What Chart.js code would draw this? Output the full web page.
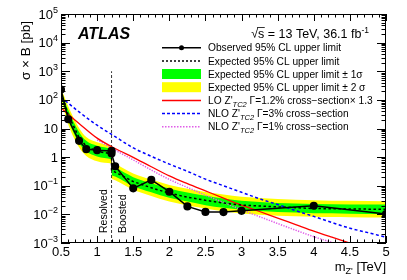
<!DOCTYPE html>
<html>
<head>
<meta charset="utf-8">
<script src="https://cdn.jsdelivr.net/npm/chart.js@4.4.0/dist/chart.umd.min.js"></script>
<style>
html, body { margin: 0; padding: 0; background: #fff; }
#wrap { width: 407px; height: 280px; }
</style>
</head>
<body>
<div id="wrap"><canvas id="grafico" width="407" height="280"></canvas></div>
<script>
// --- DATOS ---
// observado (la masa 1.2 aparece dos veces: resuelto y boosted)
const masaObs = [0.5, 0.6, 0.75, 0.85, 1.0, 1.2, 1.2, 1.25, 1.5, 1.75, 2.0, 2.25, 2.5, 2.75, 3.0, 4.0, 5.0];
const limiteObs = [230, 21, 3.7, 1.9, 1.75, 1.65, 1.35, 0.48, 0.081, 0.16, 0.062, 0.019, 0.0122, 0.012, 0.0133, 0.0199, 0.0102];

// esperado, region resuelta
const masaRes = [0.5, 0.6, 0.75, 0.85, 1.0, 1.2];
const espRes = [170, 30, 4.8, 2.4, 1.6, 1.3];
const esp1sArribaRes = [215, 44, 7.6, 3.7, 2.5, 2.0];
const esp1sAbajoRes = [135, 20, 3.1, 1.6, 1.05, 0.85];
const esp2sArribaRes = [260, 60, 10.5, 5.0, 3.3, 2.5];
const esp2sAbajoRes = [105, 14, 2.2, 1.1, 0.72, 0.6];

// esperado, region boosted
const masaBoo = [1.2, 1.25, 1.5, 1.75, 2.0, 2.25, 2.5, 2.75, 3.0, 4.0, 5.0];
const espBoo = [0.34, 0.3, 0.14, 0.085, 0.055, 0.04, 0.031, 0.025, 0.021, 0.016, 0.015];
const esp1sArribaBoo = [0.49, 0.43, 0.2, 0.123, 0.08, 0.058, 0.045, 0.036, 0.030, 0.023, 0.022];
const esp1sAbajoBoo = [0.235, 0.21, 0.097, 0.059, 0.038, 0.028, 0.021, 0.017, 0.0145, 0.011, 0.0103];
const esp2sArribaBoo = [0.66, 0.58, 0.27, 0.165, 0.107, 0.078, 0.06, 0.049, 0.041, 0.031, 0.029];
const esp2sAbajoBoo = [0.175, 0.155, 0.072, 0.044, 0.028, 0.0205, 0.016, 0.0128, 0.0108, 0.0082, 0.0077];

// secciones eficaces teoricas
const masaLO = [0.5, 0.75, 1.0, 1.25, 1.5, 1.75, 2.0, 2.25, 2.5, 2.75, 3.0, 3.25, 3.5, 3.75, 4.0, 4.25, 4.5];
const xsecLO = [52, 15, 4.6, 2.0, 0.98, 0.46, 0.22, 0.118, 0.066, 0.037, 0.021, 0.0126, 0.0074, 0.0044, 0.0026, 0.0016, 0.001];
const masaNLO3 = [0.5, 0.75, 1.0, 1.25, 1.5, 1.75, 2.0, 2.25, 2.5, 2.75, 3.0, 3.25, 3.5, 3.75, 4.0, 4.25, 4.5, 4.75, 5.0];
const xsecNLO3 = [125, 38, 13, 5.2, 2.1, 1.07, 0.57, 0.32, 0.17, 0.1, 0.059, 0.035, 0.022, 0.0135, 0.0085, 0.0052, 0.0033, 0.0023, 0.0016];
const masaNLO1 = [1.0, 1.25, 1.5, 1.75, 2.0, 2.25, 2.5, 2.75, 3.0, 3.25, 3.5, 3.75, 4.0, 4.25, 4.5];
const xsecNLO1 = [4.0, 1.75, 0.8, 0.355, 0.166, 0.087, 0.047, 0.026, 0.0145, 0.0083, 0.0048, 0.0028, 0.00166, 0.00105, 0.00066];

// separacion resuelto / boosted
const masaCorte = 1.2;

// etiquetas
const etiquetasY = [[1e-3, '10', '−3'], [1e-2, '10', '−2'], [1e-1, '10', '−1'], [1, '1', ''], [10, '10', ''],
                    [1e2, '10', '2'], [1e3, '10', '3'], [1e4, '10', '4'], [1e5, '10', '5']];

const FUENTE = '"Liberation Sans", Arial, Helvetica, sans-serif';

function puntos(xs, ys) {
    return xs.map((x, i) => ({ x: x, y: ys[i] }));
}

// --- TEXTO CON SUB/SUPER INDICES ---
function trozo(ctx, txt, x, y, size, dy, estilo) {
    ctx.font = (estilo || '') + ' ' + size + 'px ' + FUENTE;
    ctx.fillText(txt, x, y + dy);
    return ctx.measureText(txt).width;
}

function dibujarLinea(ctx, partes, x, y) {
    // partes: [texto, tamaño, desplazamiento, estilo]
    let cx = x;
    partes.forEach(p => { cx += trozo(ctx, p[0], cx, y, p[1], p[2] || 0, p[3]); });
    return cx;
}

function anchoLinea(ctx, partes) {
    let w = 0;
    partes.forEach(p => {
        ctx.font = (p[3] || '') + ' ' + p[1] + 'px ' + FUENTE;
        w += ctx.measureText(p[0]).width;
    });
    return w;
}

const decoracion = {
    id: 'decoracion',
    afterDatasetsDraw(chart) {
        const ctx = chart.ctx;
        const a = chart.chartArea;
        const xs = chart.scales.x, ys = chart.scales.y;
        ctx.save();
        ctx.strokeStyle = '#000';
        ctx.lineWidth = 1;
        ctx.strokeRect(a.left + 0.5, a.top + 0.5, a.right - a.left - 1, a.bottom - a.top - 1);

        ctx.beginPath();
        for (let i = 5; i <= 50; i++) {
            const px = Math.round(xs.getPixelForValue(i / 10)) + 0.5;
            const l = (i % 5 === 0) ? 7 : 3.5;
            ctx.moveTo(px, a.bottom); ctx.lineTo(px, a.bottom - l);
            ctx.moveTo(px, a.top); ctx.lineTo(px, a.top + l);
        }
        for (let e = -3; e <= 4; e++) {
            for (let k = 1; k <= 9; k++) {
                const py = Math.round(ys.getPixelForValue(k * Math.pow(10, e))) + 0.5;
                const l = (k === 1) ? 9 : 4.5;
                ctx.moveTo(a.left, py); ctx.lineTo(a.left + l, py);
                ctx.moveTo(a.right, py); ctx.lineTo(a.right - l, py);
            }
        }
        ctx.stroke();
        ctx.restore();
    },
    afterDraw(chart) {
        const ctx = chart.ctx;
        const a = chart.chartArea;
        const ys = chart.scales.y;
        const xs = chart.scales.x;
        ctx.save();
        ctx.fillStyle = '#000';
        ctx.textBaseline = 'alphabetic';
        ctx.textAlign = 'left';

        // etiquetas eje Y
        etiquetasY.forEach(([v, base, exp]) => {
            const py = ys.getPixelForValue(v);
            const partes = [[base, 13, 0]];
            if (exp) partes.push([exp, 9, -6]);
            const w = anchoLinea(ctx, partes);
            dibujarLinea(ctx, partes, 58 - w, py + 4.5);
        });

        // titulo eje Y
        ctx.save();
        ctx.translate(30, 21);
        ctx.rotate(-Math.PI / 2);
        ctx.textAlign = 'right';
        ctx.font = '13.5px ' + FUENTE;
        ctx.fillText('σ × B [pb]', 0, 0);
        ctx.restore();

        // titulo eje X
        const tituloX = [['m', 13, 0], ['Z\'', 9, 3], [' [TeV]', 13, 0]];
        dibujarLinea(ctx, tituloX, a.right - anchoLinea(ctx, tituloX), 271);

        // ATLAS
        ctx.font = 'italic bold 16px ' + FUENTE;
        ctx.fillText('ATLAS', 78, 39);

        // energia y luminosidad
        const lumi = [['√', 12.5, 0], ['s = 13 TeV, 36.1 fb', 12.5, 0], ['-1', 8.5, -5]];
        const xl = 369 - anchoLinea(ctx, lumi);
        dibujarLinea(ctx, lumi, xl, 38);
        ctx.font = '12.5px ' + FUENTE;
        const wr = ctx.measureText('√').width;
        ctx.beginPath();
        ctx.lineWidth = 0.8;
        ctx.moveTo(xl + wr - 1, 27.5); ctx.lineTo(xl + wr + ctx.measureText('s').width + 0.5, 27.5);
        ctx.stroke();

        // leyenda
        const x0 = 162, x1 = 201, xt = 208;
        const filas = [47.7, 60.9, 74.0, 87.2, 100.4, 113.5, 126.7];
        const tam = 10.2;
        ctx.lineWidth = 1.5;
        // observado
        ctx.strokeStyle = '#000';
        ctx.setLineDash([]);
        ctx.beginPath(); ctx.moveTo(x0, filas[0]); ctx.lineTo(x1, filas[0]); ctx.stroke();
        ctx.beginPath(); ctx.arc((x0 + x1) / 2, filas[0], 2.5, 0, 2 * Math.PI); ctx.fill();
        // esperado
        ctx.setLineDash([2, 2]);
        ctx.beginPath(); ctx.moveTo(x0, filas[1]); ctx.lineTo(x1, filas[1]); ctx.stroke();
        ctx.setLineDash([]);
        // bandas
        ctx.fillStyle = '#00ff00'; ctx.fillRect(x0, filas[2] - 5, x1 - x0, 10);
        ctx.fillStyle = '#ffff00'; ctx.fillRect(x0, filas[3] - 5, x1 - x0, 10);
        ctx.fillStyle = '#000';
        // teoria
        ctx.strokeStyle = '#ff0000';
        ctx.beginPath(); ctx.moveTo(x0, filas[4]); ctx.lineTo(x1, filas[4]); ctx.stroke();
        ctx.strokeStyle = '#0000ff';
        ctx.setLineDash([3, 2]);
        ctx.beginPath(); ctx.moveTo(x0, filas[5]); ctx.lineTo(x1, filas[5]); ctx.stroke();
        ctx.strokeStyle = '#e05ce8';
        ctx.setLineDash([1.5, 1.5]);
        ctx.beginPath(); ctx.moveTo(x0, filas[6]); ctx.lineTo(x1, filas[6]); ctx.stroke();
        ctx.setLineDash([]);

        const d = 3.6;
        const textos = [
            [['Observed 95% CL upper limit', tam, 0]],
            [['Expected 95% CL upper limit', tam, 0]],
            [['Expected 95% CL upper limit ± 1', tam, 0], ['σ', tam, 0]],
            [['Expected 95% CL upper limit ± 2 ', tam, 0], ['σ', tam, 0]],
            [['LO Z\'', tam, 0], ['TC2', 7.5, 3, 'italic'], [' Γ=1.2% cross−section× 1.3', tam, 0]],
            [['NLO Z\'', tam, 0], ['TC2', 7.5, 3, 'italic'], [' Γ=3% cross−section', tam, 0]],
            [['NLO Z\'', tam, 0], ['TC2', 7.5, 3, 'italic'], [' Γ=1% cross−section', tam, 0]]
        ];
        textos.forEach((t, i) => dibujarLinea(ctx, t, xt, filas[i] + d));

        // Resolved / Boosted
        const pc = xs.getPixelForValue(masaCorte);
        ctx.font = '10.5px ' + FUENTE;
        ctx.textAlign = 'left';
        ctx.save();
        ctx.translate(pc - 4.5, 233);
        ctx.rotate(-Math.PI / 2);
        ctx.fillText('Resolved', 0, 0);
        ctx.restore();
        ctx.save();
        ctx.translate(pc + 14.5, 233);
        ctx.rotate(-Math.PI / 2);
        ctx.fillText('Boosted', 0, 0);
        ctx.restore();

        ctx.restore();
    }
};

const bandaBase = { borderWidth: 0, pointRadius: 0, cubicInterpolationMode: 'monotone' };

new Chart(document.getElementById('grafico').getContext('2d'), {
    type: 'line',
    data: {
        datasets: [
            { label: 'Observed', data: puntos(masaObs, limiteObs), borderColor: '#000', backgroundColor: '#000',
              borderWidth: 1.5, pointRadius: 3.3, pointBackgroundColor: '#000', tension: 0 },
            { label: 'Expected', data: puntos(masaRes.concat(masaBoo), espRes.concat(espBoo)), borderColor: '#000',
              borderWidth: 1.5, borderDash: [2.5, 2.5], pointRadius: 0, tension: 0 },
            { label: 'LO', data: puntos(masaLO, xsecLO), borderColor: '#ff0000', borderWidth: 1.3,
              pointRadius: 0, cubicInterpolationMode: 'monotone' },
            { label: 'NLO 3%', data: puntos(masaNLO3, xsecNLO3), borderColor: '#0000ff', borderWidth: 1.5,
              borderDash: [3, 2.5], pointRadius: 0, cubicInterpolationMode: 'monotone' },
            { label: 'NLO 1%', data: puntos(masaNLO1, xsecNLO1), borderColor: '#e05ce8', borderWidth: 1.5,
              borderDash: [1.3, 1.3], pointRadius: 0, cubicInterpolationMode: 'monotone' },
            { label: 'corte', data: [{ x: masaCorte, y: 1e-3 }, { x: masaCorte, y: 1e3 }], borderColor: '#000',
              borderWidth: 0.8, borderDash: [3, 2], pointRadius: 0 },
            Object.assign({ data: puntos(masaRes, esp1sArribaRes), backgroundColor: '#00ff00', fill: '+1' }, bandaBase),
            Object.assign({ data: puntos(masaRes, esp1sAbajoRes) }, bandaBase),
            Object.assign({ data: puntos(masaBoo, esp1sArribaBoo), backgroundColor: '#00ff00', fill: '+1' }, bandaBase),
            Object.assign({ data: puntos(masaBoo, esp1sAbajoBoo) }, bandaBase),
            Object.assign({ data: puntos(masaRes, esp2sArribaRes), backgroundColor: '#ffff00', fill: '+1' }, bandaBase),
            Object.assign({ data: puntos(masaRes, esp2sAbajoRes) }, bandaBase),
            Object.assign({ data: puntos(masaBoo, esp2sArribaBoo), backgroundColor: '#ffff00', fill: '+1' }, bandaBase),
            Object.assign({ data: puntos(masaBoo, esp2sAbajoBoo) }, bandaBase)
        ]
    },
    options: {
        responsive: false,
        animation: false,
        devicePixelRatio: 1,
        layout: { padding: { top: 14, right: 21, left: 0, bottom: 0 } },
        plugins: { legend: { display: false }, tooltip: { enabled: false } },
        scales: {
            x: {
                type: 'linear', min: 0.5, max: 5,
                grid: { display: false, drawTicks: false }, border: { display: false },
                ticks: { stepSize: 0.5, padding: 2, maxRotation: 0, autoSkip: false, color: '#000',
                         font: { family: FUENTE, size: 13 },
                         callback: v => String(Math.round(v * 10) / 10) },
                afterFit(s) { s.height = 37; }
            },
            y: {
                type: 'logarithmic', min: 1e-3, max: 1e5,
                grid: { display: false, drawTicks: false }, border: { display: false },
                ticks: { display: false },
                afterFit(s) { s.width = 61; }
            }
        }
    },
    plugins: [decoracion]
});
</script>
</body>
</html>
